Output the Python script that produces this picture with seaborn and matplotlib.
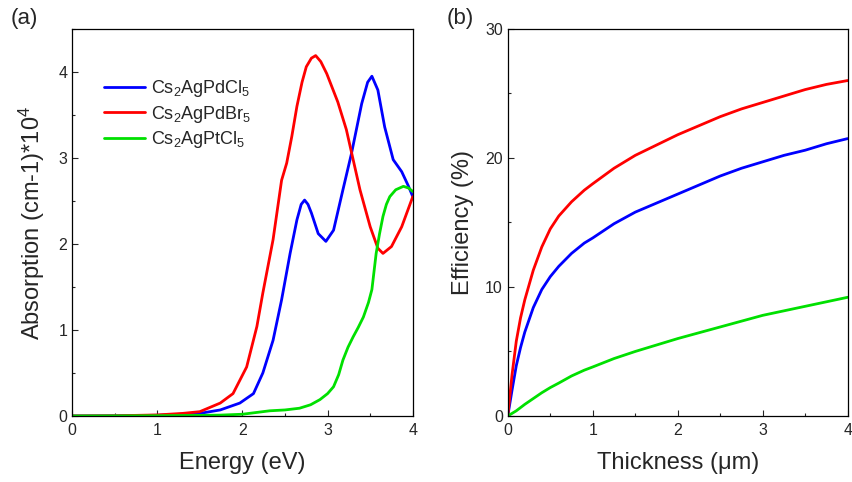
import numpy as np
import pandas as pd
import matplotlib
matplotlib.use("Agg")
import matplotlib.pyplot as plt
import seaborn as sns

# panel (a): absorption spectra
e_pdcl = [0, 0.5, 1.0, 1.5, 1.74, 1.97, 2.13, 2.24, 2.36, 2.46, 2.56, 2.64, 2.69, 2.73, 2.77, 2.81,
          2.89, 2.98, 3.07, 3.18, 3.28, 3.40, 3.47, 3.52, 3.59, 3.67, 3.77, 3.87, 3.95, 4.0]
a_pdcl = [0, 0.002, 0.008, 0.03, 0.07, 0.15, 0.26, 0.5, 0.88, 1.35, 1.89, 2.28, 2.46, 2.51, 2.46,
          2.36, 2.12, 2.03, 2.16, 2.63, 3.05, 3.63, 3.88, 3.95, 3.79, 3.36, 2.98, 2.84, 2.67, 2.55]

e_pdbr = [0, 0.5, 1.0, 1.3, 1.5, 1.74, 1.89, 2.05, 2.17, 2.24, 2.36, 2.46, 2.52, 2.58, 2.64, 2.70,
          2.75, 2.81, 2.86, 2.92, 2.99, 3.12, 3.22, 3.30, 3.38, 3.50, 3.59, 3.65, 3.75, 3.87, 4.0]
a_pdbr = [0, 0.002, 0.012, 0.03, 0.05, 0.15, 0.26, 0.57, 1.04, 1.43, 2.05, 2.74, 2.94, 3.25, 3.6,
          3.88, 4.06, 4.16, 4.19, 4.12, 3.98, 3.65, 3.33, 2.98, 2.63, 2.2, 1.95, 1.89, 1.97, 2.2, 2.55]

e_ptcl = [0, 0.5, 1.0, 1.5, 1.74, 2.0, 2.32, 2.5, 2.67, 2.8, 2.91, 3.0, 3.07, 3.13, 3.18, 3.24, 3.30,
          3.36, 3.42, 3.48, 3.52, 3.57, 3.61, 3.65, 3.69, 3.73, 3.8, 3.89, 3.95, 4.0]
a_ptcl = [0, 0.001, 0.003, 0.007, 0.01, 0.02, 0.06, 0.07, 0.09, 0.13, 0.19, 0.26, 0.34, 0.48, 0.65,
          0.8, 0.92, 1.03, 1.15, 1.32, 1.47, 1.89, 2.12, 2.32, 2.46, 2.55, 2.63, 2.67, 2.65, 2.61]

# panel (b): efficiency vs thickness
thick = [0, 0.05, 0.1, 0.15, 0.2, 0.3, 0.4, 0.5, 0.6, 0.75, 0.9, 1.0, 1.25, 1.5, 1.75, 2.0, 2.25,
         2.5, 2.75, 3.0, 3.25, 3.5, 3.75, 4.0]
eff_pdcl = [0, 2.0, 3.9, 5.3, 6.5, 8.4, 9.8, 10.8, 11.6, 12.6, 13.4, 13.8, 14.9, 15.8, 16.5, 17.2,
            17.9, 18.6, 19.2, 19.7, 20.2, 20.6, 21.1, 21.5]
eff_pdbr = [0, 3.2, 5.8, 7.6, 9.0, 11.3, 13.1, 14.5, 15.5, 16.6, 17.5, 18.0, 19.2, 20.2, 21.0, 21.8,
            22.5, 23.2, 23.8, 24.3, 24.8, 25.3, 25.7, 26.0]
eff_ptcl = [0, 0.2, 0.4, 0.65, 0.9, 1.35, 1.8, 2.2, 2.55, 3.1, 3.55, 3.8, 4.45, 5.0, 5.5, 6.0, 6.45,
            6.9, 7.35, 7.8, 8.15, 8.5, 8.85, 9.2]

names = [r"Cs$_2$AgPdCl$_5$", r"Cs$_2$AgPdBr$_5$", r"Cs$_2$AgPtCl$_5$"]
colors = ["#0000ff", "#ff0000", "#00e000"]

sns.set_style("ticks")
plt.rcParams["font.family"] = ["Liberation Sans", "DejaVu Sans"]
plt.rcParams["mathtext.fontset"] = "custom"
plt.rcParams["mathtext.rm"] = "Liberation Sans"
plt.rcParams["mathtext.it"] = "Liberation Sans"
plt.rcParams["xtick.direction"] = "in"
plt.rcParams["ytick.direction"] = "in"

df_a = pd.concat([
    pd.DataFrame({"energy": e_pdcl, "abs": a_pdcl, "material": names[0]}),
    pd.DataFrame({"energy": e_pdbr, "abs": a_pdbr, "material": names[1]}),
    pd.DataFrame({"energy": e_ptcl, "abs": a_ptcl, "material": names[2]}),
])
df_b = pd.concat([
    pd.DataFrame({"t": thick, "eff": eff_pdcl, "material": names[0]}),
    pd.DataFrame({"t": thick, "eff": eff_pdbr, "material": names[1]}),
    pd.DataFrame({"t": thick, "eff": eff_ptcl, "material": names[2]}),
])
pal = dict(zip(names, colors))

fig = plt.figure(figsize=(8.52, 4.82), dpi=100)
ax1 = fig.add_axes([0.0845, 0.137, 0.400, 0.803])
ax2 = fig.add_axes([0.596, 0.137, 0.399, 0.803])

sns.lineplot(data=df_a, x="energy", y="abs", hue="material", palette=pal, ax=ax1,
             linewidth=2, sort=False, estimator=None)
sns.lineplot(data=df_b, x="t", y="eff", hue="material", palette=pal, ax=ax2,
             linewidth=2, sort=False, estimator=None, legend=False)

ax1.set_xlim(0, 4)
ax1.set_ylim(0, 4.5)
ax1.set_xticks([0, 1, 2, 3, 4])
ax1.set_xticks(np.arange(0, 4.01, 0.5), minor=True)
ax1.set_yticks([0, 1, 2, 3, 4])
ax1.set_yticks(np.arange(0, 4.51, 0.5), minor=True)
ax1.set_xlabel("Energy (eV)", fontsize=17, labelpad=10)
ax1.set_ylabel("Absorption (cm-1)*10$^4$", fontsize=17, labelpad=8)

ax2.set_xlim(0, 4)
ax2.set_ylim(0, 30)
ax2.set_xticks([0, 1, 2, 3, 4])
ax2.set_xticks(np.arange(0, 4.01, 0.5), minor=True)
ax2.set_yticks([0, 10, 20, 30])
ax2.set_yticks(np.arange(0, 30.1, 5), minor=True)
ax2.set_xlabel("Thickness (\u03bcm)", fontsize=17, labelpad=10)
ax2.set_ylabel("Efficiency (%)", fontsize=17, labelpad=8)

for ax in (ax1, ax2):
    ax.tick_params(which="major", length=4, width=0.8, labelsize=11.5)
    ax.tick_params(axis="x", which="major", pad=5)
    ax.tick_params(which="minor", length=2.5, width=0.8)
    for s in ax.spines.values():
        s.set_linewidth(0.9)
        s.set_color("black")

leg = ax1.legend(loc="upper left", bbox_to_anchor=(0.045, 0.915), frameon=False, fontsize=13,
                 handlelength=2.3, labelspacing=0.25, handletextpad=0.3)
for ln in leg.get_lines():
    ln.set_linewidth(2)

fig.text(0.013, 0.962, "(a)", fontsize=16, va="center")
fig.text(0.524, 0.962, "(b)", fontsize=16, va="center")

fig.savefig("out.png", dpi=100)
